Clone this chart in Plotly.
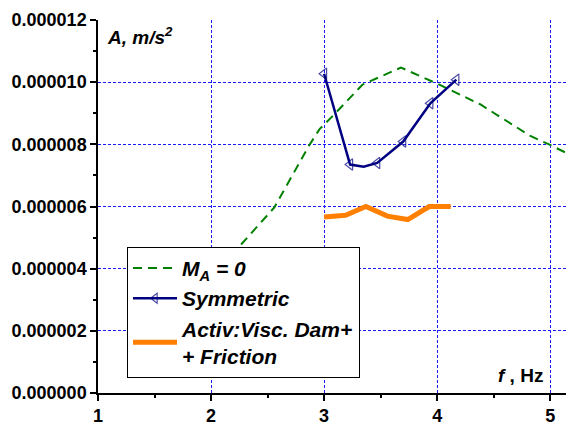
import plotly.graph_objects as go

# Frequency response data, f in Hz, A in m/s^2
ma0_f = [2.00, 2.27, 2.56, 2.87, 2.96, 3.10, 3.34, 3.68, 4.02, 4.38, 4.82, 5.00, 5.20]
ma0_a = [3.70e-6, 4.79e-6, 5.97e-6, 7.98e-6, 8.49e-6, 9.00e-6, 9.92e-6, 10.47e-6,
         9.92e-6, 9.29e-6, 8.28e-6, 7.98e-6, 7.62e-6]

sym_f = [3.00, 3.23, 3.35, 3.47, 3.70, 3.94, 4.17]
sym_a = [10.27e-6, 7.35e-6, 7.28e-6, 7.40e-6, 8.09e-6, 9.32e-6, 10.08e-6]
sym_unmarked = [2]  # vertex drawn without a symbol

act_f = [3.00, 3.19, 3.37, 3.56, 3.74, 3.93, 4.12]
act_a = [5.66e-6, 5.72e-6, 6.00e-6, 5.69e-6, 5.58e-6, 6.00e-6, 6.00e-6]

x_ticks = [1, 2, 3, 4, 5]
y_ticks = [0, 2e-6, 4e-6, 6e-6, 8e-6, 10e-6, 12e-6]

FONT = "Liberation Sans, Arial, sans-serif"
GRID = "#1a1aff"

fig = go.Figure()

fig.add_trace(go.Scatter(
    x=ma0_f, y=ma0_a, mode="lines",
    name="<b><i>M<sub>A</sub> = 0</i></b>",
    line=dict(color="#008000", width=2, dash="9px,6px"),
))
fig.add_trace(go.Scatter(
    x=sym_f, y=sym_a, mode="lines+markers",
    name="<b><i>Symmetric</i></b>",
    line=dict(color="#000080", width=2.5),
    marker=dict(symbol="triangle-left-open", color="#000080",
                size=[0 if i in sym_unmarked else 10 for i in range(len(sym_f))],
                line=dict(width=1.2, color="#000080")),
))
fig.add_trace(go.Scatter(
    x=act_f, y=act_a, mode="lines",
    name="<b><i>Activ:Visc. Dam+<br>+ Friction</i></b>",
    line=dict(color="#FF8000", width=5),
))

fig.update_layout(
    width=566, height=426,
    margin=dict(l=98, r=0, t=20, b=28),
    paper_bgcolor="white", plot_bgcolor="white",
    font=dict(family=FONT, color="black"),
    showlegend=True,
    legend=dict(
        x=0.062, y=0.392, xanchor="left", yanchor="top",
        bgcolor="white", bordercolor="black", borderwidth=1,
        font=dict(family=FONT, size=21, color="black"),
        itemwidth=44, tracegroupgap=0,
    ),
    xaxis=dict(
        range=[1, 5.14], tickvals=x_ticks,
        ticks="outside", ticklen=6, tickwidth=1.5, tickcolor="black",
        showline=True, linecolor="black", linewidth=1.5,
        showgrid=True, gridcolor=GRID, gridwidth=1, griddash="3px,2px",
        zeroline=False,
        tickfont=dict(family=FONT, size=18, color="black", weight="bold"),
        minor=dict(dtick=0.5, ticks="outside", ticklen=3, tickcolor="black", showgrid=False),
    ),
    yaxis=dict(
        range=[0, 12e-6], tickvals=y_ticks, tickformat=".6f",
        ticks="outside", ticklen=6, tickwidth=1.5, tickcolor="black",
        showline=True, linecolor="black", linewidth=1.5,
        showgrid=True, gridcolor=GRID, gridwidth=1, griddash="3px,2px",
        zeroline=False,
        tickfont=dict(family=FONT, size=18, color="black", weight="bold"),
        minor=dict(dtick=1e-6, ticks="outside", ticklen=3, tickcolor="black", showgrid=False),
    ),
    annotations=[
        dict(text="<b><i>A, m/s<sup>2</sup></i></b>", xref="paper", yref="paper",
             x=0.016, y=0.995, xanchor="left", yanchor="top", showarrow=False,
             font=dict(family=FONT, size=19, color="black")),
        dict(text="<b><i>f</i> , Hz</b>", xref="paper", yref="paper",
             x=0.955, y=0.047, xanchor="right", yanchor="middle", showarrow=False,
             font=dict(family=FONT, size=19, color="black")),
    ],
)

fig.write_html("out.html")
